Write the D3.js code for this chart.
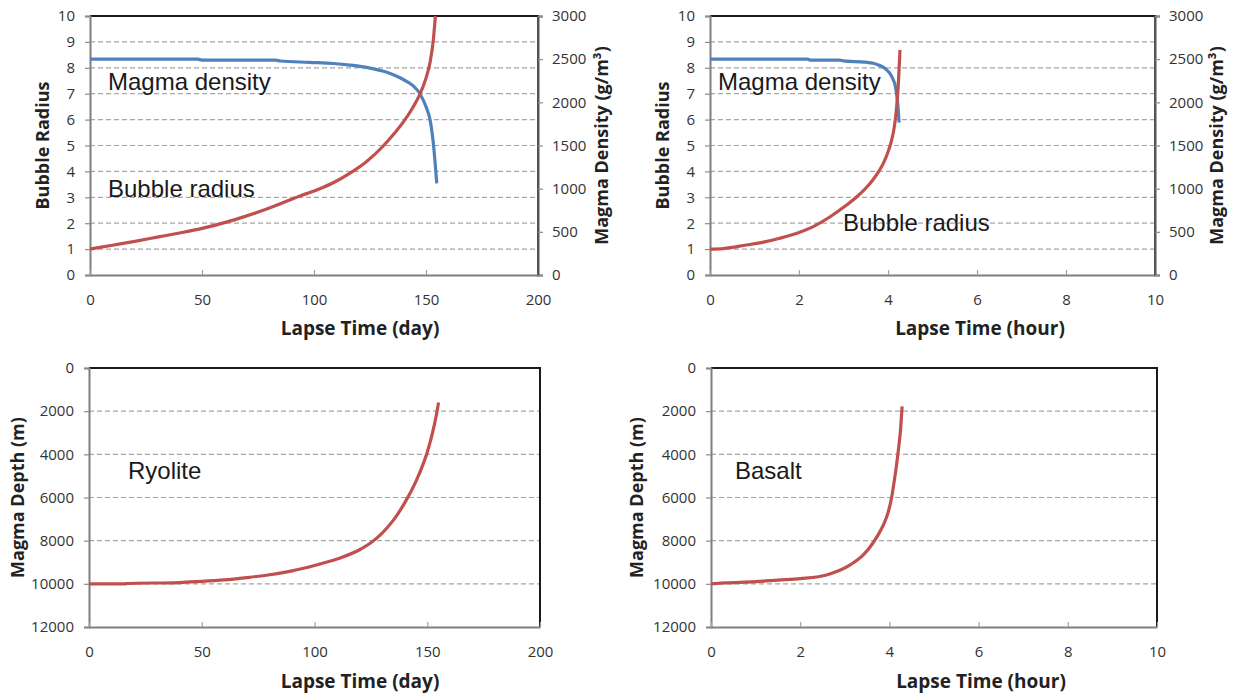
<!DOCTYPE html>
<html>
<head>
<meta charset="utf-8">
<script src="https://cdn.jsdelivr.net/npm/d3@7"></script>
<style>
  html, body { margin: 0; padding: 0; background: #fff; }
  svg { display: block; }
</style>
</head>
<body>
<svg id="chart" width="1234" height="693"></svg>
<script>
// ---------------- DATA ----------------
// Ryolite (days)
const ryoRadiusTime = [0, 10, 20, 30, 40, 49.1, 64, 78.9, 93.75, 101.2, 108.6, 116.1, 123.5, 130.9, 136, 140, 144, 147.3, 150, 151.8, 153.3, 154.2];
const ryoRadius     = [1.0, 1.15, 1.3, 1.46, 1.62, 1.78, 2.12, 2.55, 3.05, 3.28, 3.56, 3.93, 4.38, 4.98, 5.48, 5.92, 6.45, 6.98, 7.6, 8.2, 9.1, 10];
const ryoDensityTime = [0, 20, 48, 50, 83, 85, 98, 108.6, 116, 123.5, 129.5, 134, 138.4, 141.5, 144.3, 147.3, 150.3, 151.8, 153.3, 154.8];
const ryoDensity     = [2500, 2500, 2500, 2490, 2488, 2479, 2463, 2450, 2432, 2405, 2370, 2335, 2285, 2240, 2190, 2100, 1930, 1800, 1520, 1062];
const ryoDepthTime = [0, 16, 17, 40, 50, 60, 70, 80, 90, 100, 110, 120, 125, 130, 135, 140, 145, 148, 150, 152, 154, 155];
const ryoDepth     = [10000, 10000, 9985, 9940, 9890, 9820, 9710, 9580, 9400, 9150, 8850, 8420, 8100, 7650, 7050, 6250, 5250, 4500, 3900, 3150, 2200, 1600];

// Basalt (hours)
const basRadiusTime = [0, 0.3, 0.82, 1.2, 1.57, 2.0, 2.32, 2.7, 3.07, 3.3, 3.5, 3.65, 3.8, 3.9, 4.0, 4.08, 4.14, 4.19, 4.23, 4.27];
const basRadius     = [1.0, 1.02, 1.16, 1.27, 1.42, 1.64, 1.87, 2.25, 2.7, 3.02, 3.35, 3.65, 4.02, 4.33, 4.75, 5.2, 5.7, 6.4, 7.3, 8.69];
const basDensityTime = [0, 2.2, 2.25, 2.92, 3.0, 3.5, 3.67, 3.8, 3.9, 3.97, 4.05, 4.12, 4.16, 4.19, 4.22, 4.25];
const basDensity     = [2500, 2500, 2490, 2490, 2480, 2465, 2452, 2430, 2405, 2375, 2330, 2259, 2200, 2105, 1980, 1764];
const basDepthTime = [0, 0.3, 1.0, 1.5, 2.01, 2.61, 3.13, 3.42, 3.6, 3.75, 3.87, 3.97, 4.05, 4.1, 4.15, 4.21, 4.25, 4.285];
const basDepth     = [10000, 9960, 9900, 9830, 9760, 9575, 9110, 8650, 8200, 7720, 7250, 6700, 6000, 5350, 4650, 3650, 2850, 1780];

// Axis ticks
const dayTicks = [0, 50, 100, 150, 200];
const hourTicks = [0, 2, 4, 6, 8, 10];
const radiusTicks = [0, 1, 2, 3, 4, 5, 6, 7, 8, 9, 10];
const densityTicks = [0, 500, 1000, 1500, 2000, 2500, 3000];
const depthTicks = [0, 2000, 4000, 6000, 8000, 10000, 12000];

// Labels
const xTitleDay = "Lapse Time (day)";
const xTitleHour = "Lapse Time (hour)";
const yTitleRadius = "Bubble Radius";
const yTitleDensity = "Magma Density (g/m³)";
const yTitleDepth = "Magma Depth (m)";

const RED = "#C0504D", BLUE = "#4F81BD";

// ---------------- DRAW ----------------
const svg = d3.select("#chart");
svg.append("rect").attr("width", 1234).attr("height", 693).attr("fill", "#fff");

const axisFont = "'Open Sans', sans-serif";
const annFont = "'Liberation Sans', Arial, sans-serif";

function zip(a, b) { return a.map((v, i) => [v, b[i]]); }

function panel(cfg) {
  const g = svg.append("g");
  const b = cfg.box;
  const x = d3.scaleLinear().domain(cfg.xDomain).range([b.l, b.r]);
  const y = d3.scaleLinear().domain(cfg.yDomain).range(cfg.yReverse ? [b.t, b.b] : [b.b, b.t]);

  // gridlines
  g.append("g").selectAll("line").data(cfg.grid).join("line")
    .attr("x1", b.l).attr("x2", b.r)
    .attr("y1", d => y(d)).attr("y2", d => y(d))
    .attr("stroke", "#a6a6a6").attr("stroke-width", 1.2)
    .attr("stroke-dasharray", "5,3");

  // top & right border
  g.append("line").attr("x1", b.l).attr("x2", b.r + 1).attr("y1", b.t).attr("y2", b.t)
    .attr("stroke", "#1a1a1a").attr("stroke-width", 2);
  g.append("line").attr("x1", b.r).attr("x2", b.r).attr("y1", b.t).attr("y2", b.b)
    .attr("stroke", cfg.y2 ? "#555" : "#1a1a1a").attr("stroke-width", 2);

  // left axis
  const ya = g.append("g").attr("transform", `translate(${b.l},0)`)
    .call(d3.axisLeft(y).tickValues(cfg.yTicks).tickSize(5).tickPadding(10).tickFormat(d3.format("d")));
  ya.select(".domain").attr("stroke", "#7f7f7f").attr("stroke-width", 2);
  ya.selectAll(".tick line").attr("stroke", "#8c8c8c").attr("stroke-width", 1.2);
  ya.selectAll("text").attr("font-family", axisFont).attr("font-size", 15).attr("fill", "#333");

  // bottom axis
  const xa = g.append("g").attr("transform", `translate(0,${b.b})`)
    .call(d3.axisBottom(x).tickValues(cfg.xTicks).tickSizeInner(-5).tickSizeOuter(0).tickPadding(19).tickFormat(d3.format("d")));
  xa.select(".domain").attr("stroke", "#7f7f7f").attr("stroke-width", 2);
  xa.selectAll(".tick line").attr("stroke", "#a0a0a0").attr("stroke-width", 1.2);
  xa.selectAll("text").attr("font-family", axisFont).attr("font-size", 15).attr("fill", "#333");

  // secondary axis
  let y2 = null;
  if (cfg.y2) {
    y2 = d3.scaleLinear().domain(cfg.y2.domain).range([b.b, b.t]);
    const ra = g.append("g").attr("transform", `translate(${b.r},0)`)
      .call(d3.axisRight(y2).tickValues(cfg.y2.ticks).tickSize(5).tickPadding(9).tickFormat(d3.format("d")));
    ra.select(".domain").attr("stroke", "#555").attr("stroke-width", 2);
    ra.selectAll(".tick line").attr("stroke", "#8c8c8c").attr("stroke-width", 1.2);
    ra.selectAll("text").attr("font-family", axisFont).attr("font-size", 15).attr("fill", "#333");
    g.append("text")
      .attr("transform", `translate(${cfg.y2.titleX},${(b.t + b.b) / 2}) rotate(-90)`)
      .attr("text-anchor", "middle").attr("dy", "0.35em")
      .attr("font-family", axisFont).attr("font-weight", "bold").attr("font-size", 18).attr("fill", "#222")
      .text(cfg.y2.title);
  }

  // titles
  g.append("text")
    .attr("x", cfg.xTitleX).attr("y", cfg.xTitleY)
    .attr("text-anchor", "middle").attr("dy", "0.35em")
    .attr("font-family", axisFont).attr("font-weight", "bold").attr("font-size", 19).attr("fill", "#222")
    .text(cfg.xTitle);
  g.append("text")
    .attr("transform", `translate(${cfg.yTitleX},${(b.t + b.b) / 2}) rotate(-90)`)
    .attr("text-anchor", "middle").attr("dy", "0.35em")
    .attr("font-family", axisFont).attr("font-weight", "bold").attr("font-size", 18).attr("fill", "#222")
    .text(cfg.yTitle);

  // series
  const line = (ys) => d3.line().x(d => x(d[0])).y(d => ys(d[1])).curve(d3.curveMonotoneX);
  cfg.series.forEach(s => {
    g.append("path").datum(zip(s.x, s.y))
      .attr("fill", "none").attr("stroke", s.color).attr("stroke-width", 3.2)
      .attr("stroke-linejoin", "round").attr("stroke-linecap", "butt")
      .attr("d", line(s.secondary ? y2 : y));
  });

  // annotations
  cfg.notes.forEach(n => {
    g.append("text").attr("x", n.x).attr("y", n.y)
      .attr("font-family", annFont).attr("font-size", 24).attr("fill", "#1a1a1a")
      .text(n.text);
  });
}

panel({
  box: { l: 90, r: 538, t: 16, b: 275 },
  xDomain: [0, 200], xTicks: dayTicks,
  yDomain: [0, 10], yTicks: radiusTicks, grid: [1, 2, 3, 4, 5, 6, 7, 8, 9],
  y2: { domain: [0, 3000], ticks: densityTicks, title: yTitleDensity, titleX: 602 },
  xTitle: xTitleDay, xTitleX: 360, xTitleY: 328, yTitle: yTitleRadius, yTitleX: 43,
  series: [
    { x: ryoDensityTime, y: ryoDensity, color: BLUE, secondary: true },
    { x: ryoRadiusTime, y: ryoRadius, color: RED }
  ],
  notes: [
    { text: "Magma density", x: 108, y: 90 },
    { text: "Bubble radius", x: 108, y: 197 }
  ]
});

panel({
  box: { l: 710, r: 1155, t: 16, b: 275 },
  xDomain: [0, 10], xTicks: hourTicks,
  yDomain: [0, 10], yTicks: radiusTicks, grid: [1, 2, 3, 4, 5, 6, 7, 8, 9],
  y2: { domain: [0, 3000], ticks: densityTicks, title: yTitleDensity, titleX: 1217 },
  xTitle: xTitleHour, xTitleX: 980, xTitleY: 328, yTitle: yTitleRadius, yTitleX: 663,
  series: [
    { x: basDensityTime, y: basDensity, color: BLUE, secondary: true },
    { x: basRadiusTime, y: basRadius, color: RED }
  ],
  notes: [
    { text: "Magma density", x: 718, y: 90 },
    { text: "Bubble radius", x: 843, y: 231 }
  ]
});

panel({
  box: { l: 89, r: 540, t: 368, b: 627 },
  xDomain: [0, 200], xTicks: dayTicks,
  yDomain: [0, 12000], yReverse: true, yTicks: depthTicks, grid: [2000, 4000, 6000, 8000, 10000],
  xTitle: xTitleDay, xTitleX: 360, xTitleY: 681, yTitle: yTitleDepth, yTitleX: 18,
  series: [{ x: ryoDepthTime, y: ryoDepth, color: RED }],
  notes: [{ text: "Ryolite", x: 128, y: 479 }]
});

panel({
  box: { l: 711, r: 1157, t: 368, b: 627 },
  xDomain: [0, 10], xTicks: hourTicks,
  yDomain: [0, 12000], yReverse: true, yTicks: depthTicks, grid: [2000, 4000, 6000, 8000, 10000],
  xTitle: xTitleHour, xTitleX: 981, xTitleY: 681, yTitle: yTitleDepth, yTitleX: 637,
  series: [{ x: basDepthTime, y: basDepth, color: RED }],
  notes: [{ text: "Basalt", x: 735, y: 479 }]
});
</script>
</body>
</html>
